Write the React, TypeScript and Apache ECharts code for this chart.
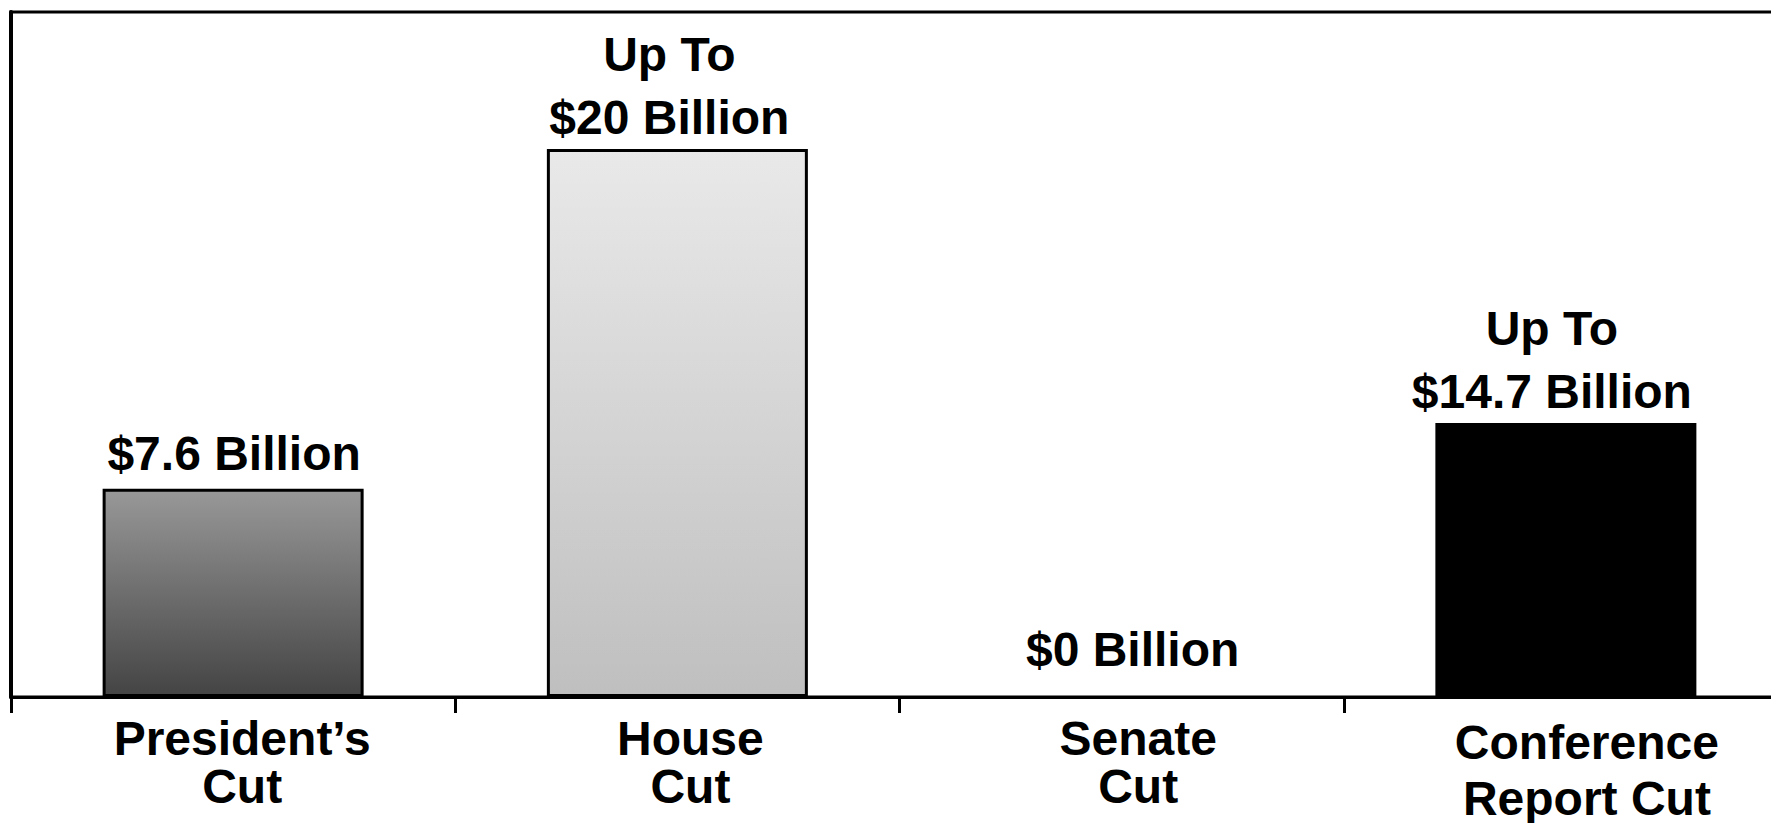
import React, { useEffect, useRef } from "react";
import * as echarts from "echarts";

// ---- data ----
const categories: string[] = ["President\u2019s\nCut", "House\nCut", "Senate\nCut", "Conference\nReport Cut"];
const barValues: number[] = [7.6, 20, 0, 10];
const valueLabels: string[] = ["$7.6 Billion", "Up To\n$20 Billion", "$0 Billion", "Up To\n$14.7 Billion"];
const yMin = 0;
const yMax = 25;

// ---- styling (not data) ----
const FONT = "'Liberation Sans', Arial, Helvetica, sans-serif";
const labelDistance = [4, 0, 16, 0];
const labelOffsetX = [1, -8, 11, -14];
const catPadLeft = [18, 26, 33, 42];
const catLineHeight = [48, 48, 48, 56];

const fills = [
  new echarts.graphic.LinearGradient(0, 0, 0, 1, [
    { offset: 0, color: "#989898" },
    { offset: 1, color: "#444444" },
  ]),
  new echarts.graphic.LinearGradient(0, 0, 0, 1, [
    { offset: 0, color: "#e9e9e9" },
    { offset: 1, color: "#bfbfbf" },
  ]),
  "#000000",
  "#000000",
];

export default function App() {
  const ref = useRef<HTMLDivElement>(null);
  useEffect(() => {
    if (!ref.current) return;
    const chart = echarts.init(ref.current, null, { renderer: "svg" });
    const rich: Record<string, any> = {};
    categories.forEach((_, i) => {
      rich["c" + i] = {
        fontFamily: FONT,
        fontWeight: "bold",
        fontSize: 48,
        lineHeight: catLineHeight[i],
        color: "#000",
        padding: [0, 0, 0, catPadLeft[i]],
        align: "center",
      };
    });
    chart.setOption({
      animation: false,
      backgroundColor: "#ffffff",
      grid: {
        left: 11,
        width: 1777,
        top: 12,
        bottom: 126,
        outerBoundsMode: "none",
        containLabel: false,
        show: true,
        borderColor: "#000",
        borderWidth: 3,
        backgroundColor: "transparent",
      },
      xAxis: {
        type: "category",
        data: categories,
        boundaryGap: true,
        axisLine: { show: true, lineStyle: { color: "#000", width: 3 } },
        axisTick: { show: true, length: 16, lineStyle: { color: "#000", width: 3 } },
        axisLabel: {
          margin: 17,
          interval: 0,
          formatter: (val: string, idx: number) =>
            val
              .split("\n")
              .map((line) => `{c${idx}|${line}}`)
              .join("\n"),
          rich,
        },
        splitLine: { show: false },
      },
      yAxis: {
        type: "value",
        min: yMin,
        max: yMax,
        axisLine: { show: true, lineStyle: { color: "#000", width: 4 } },
        axisTick: { show: false },
        axisLabel: { show: false },
        splitLine: { show: false },
      },
      series: [
        {
          type: "bar",
          barWidth: 261,
          data: barValues.map((v, i) => ({
            value: v,
            itemStyle: {
              color: fills[i],
              borderColor: "#000",
              borderWidth: v === 0 ? 0 : 3,
            },
            label: {
              show: true,
              position: "top",
              formatter: valueLabels[i],
              distance: labelDistance[i],
              offset: [labelOffsetX[i], 0],
              fontFamily: FONT,
              fontWeight: "bold",
              fontSize: 48,
              lineHeight: 63,
              color: "#000",
              align: "center",
            },
          })),
        },
      ],
    });
    return () => chart.dispose();
  }, []);
  return (
    <div
      ref={ref}
      style={{ position: "fixed", left: 0, top: 0, width: 1771, height: 823, background: "#fff" }}
    />
  );
}
